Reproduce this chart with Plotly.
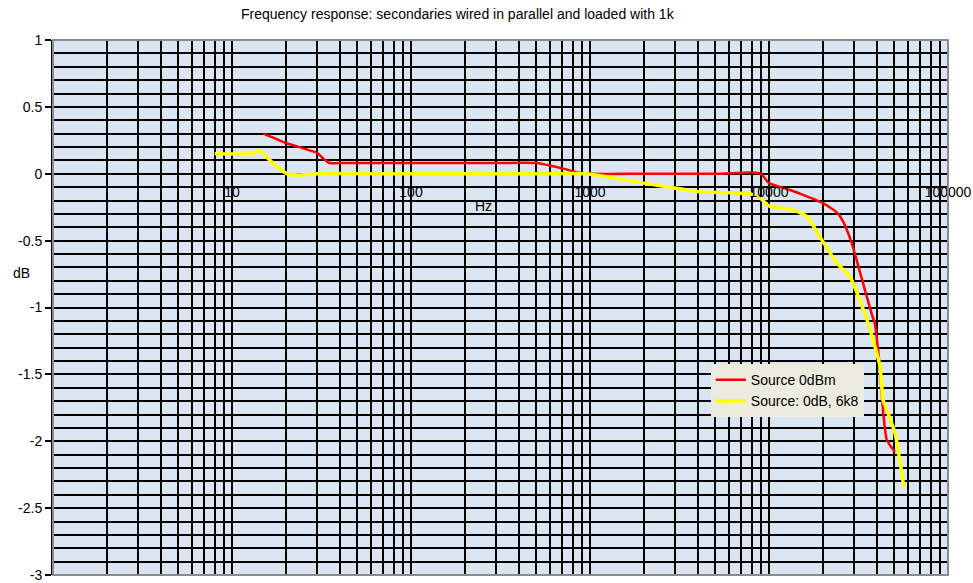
import plotly.graph_objects as go

title_text = "Frequency response: secondaries wired in parallel and loaded with 1k"

red_name = "Source 0dBm"
red_hz = [15, 20, 25, 30, 32, 35, 40, 100, 300, 500, 700, 850, 1000, 2000, 5000,
          8000, 9000, 10000, 13000, 15000, 20000, 24000, 26000, 29000, 32000,
          37500, 39000, 41500, 43500, 45500, 50500]
red_db = [0.30, 0.23, 0.19, 0.155, 0.12, 0.08, 0.08, 0.08, 0.08, 0.08, 0.04, 0.01,
          0.0, 0.0, 0.0, 0.01, 0.0, -0.07, -0.12, -0.15, -0.22, -0.29, -0.36,
          -0.52, -0.72, -1.05, -1.12, -1.44, -1.79, -1.99, -2.08]

yellow_name = "Source: 0dB, 6k8"
yellow_hz = [8, 12.5, 14.3, 16.3, 18, 20.3, 23, 30, 100, 500, 960, 2000, 4100,
             6900, 7800, 8900, 10000, 13600, 16300, 19000, 24000, 28400, 31000,
             35200, 38100, 41700, 43400, 46200, 50600, 56800]
yellow_db = [0.15, 0.15, 0.17, 0.10, 0.05, 0.0, -0.01, 0.0, 0.0, 0.0, 0.0, -0.07,
             -0.135, -0.145, -0.15, -0.18, -0.24, -0.27, -0.32, -0.46, -0.67,
             -0.77, -0.89, -1.09, -1.24, -1.44, -1.69, -1.79, -1.94, -2.35]

x_decades = [1, 10, 100, 1000, 10000, 100000]
x_decade_labels = ["", "10", "100", "1000", "10000", "100000"]
y_ticks = [-3, -2.5, -2, -1.5, -1, -0.5, 0, 0.5, 1]
y_tick_labels = ["-3", "-2.5", "-2", "-1.5", "-1", "-0.5", "0", "0.5", "1"]

# all log grid positions (1..9 per decade), labels only on decades
x_tickvals = []
x_ticktext = []
for i, d in enumerate(x_decades):
    if d == x_decades[-1]:
        x_tickvals.append(d)
        x_ticktext.append(x_decade_labels[i])
        break
    for m in range(1, 10):
        x_tickvals.append(d * m)
        x_ticktext.append(x_decade_labels[i] if m == 1 else "")

font_family = "Liberation Sans, Arial, sans-serif"
fs = 14

fig = go.Figure()
fig.add_trace(go.Scatter(x=red_hz, y=red_db, mode="lines", name=red_name,
                         line=dict(color="#ff0000", width=2.5, shape="spline", smoothing=0.5)))
fig.add_trace(go.Scatter(x=yellow_hz, y=yellow_db, mode="lines", name=yellow_name,
                         line=dict(color="#ffff00", width=3.5, shape="spline", smoothing=0.5)))

y0_pos = (0 - (-3)) / (1 - (-3))

fig.update_layout(
    width=973, height=583,
    margin=dict(l=53, r=25, t=40, b=8, autoexpand=False),
    paper_bgcolor="white",
    plot_bgcolor="#dbe5f1",
    font=dict(family=font_family, size=fs, color="black"),
    title=dict(text=title_text, x=0.47, xanchor="center", y=0.975, yanchor="middle",
               font=dict(size=fs, color="black")),
    showlegend=True,
    legend=dict(x=0.735, y=0.394, xanchor="left", yanchor="top",
                bgcolor="#ecebe0", borderwidth=0, font=dict(size=fs),
                tracegroupgap=0, itemwidth=30),
    xaxis=dict(type="log", range=[0, 5], tickvals=x_tickvals, ticktext=x_ticktext,
               showgrid=True, gridcolor="black", gridwidth=1.6, automargin=False,
               anchor="free", position=y0_pos, showline=False, zeroline=False,
               ticks="outside", ticklen=5, tickcolor="rgba(0,0,0,0)",
               tickfont=dict(size=fs)),
    yaxis=dict(range=[-3, 1], tickvals=y_ticks, ticktext=y_tick_labels,
               showgrid=True, gridcolor="black", gridwidth=1.6, automargin=False,
               minor=dict(dtick=0.1, showgrid=True, gridcolor="black", gridwidth=1.6),
               zeroline=False, showline=True, linecolor="black", linewidth=2,
               ticks="outside", ticklen=6, tickcolor="black", tickwidth=1.5,
               tickfont=dict(size=fs)),
    shapes=[dict(type="rect", xref="paper", yref="paper", x0=0, x1=1, y0=0, y1=1,
                 line=dict(color="#8c8c8c", width=2), layer="above")],
    annotations=[
        dict(text="Hz", xref="paper", yref="paper", x=(483 - 53) / 895, y=(575 - 206) / 535,
             showarrow=False, xanchor="center", yanchor="middle", font=dict(size=fs)),
        dict(text="dB", xref="paper", yref="paper", x=(21 - 53) / 895, y=(575 - 273) / 535,
             showarrow=False, xanchor="center", yanchor="middle", font=dict(size=fs)),
    ],
)

fig.write_html("out.html", config={"displayModeBar": False},
               post_script="document.body.style.margin='0';document.body.style.overflow='hidden';")
